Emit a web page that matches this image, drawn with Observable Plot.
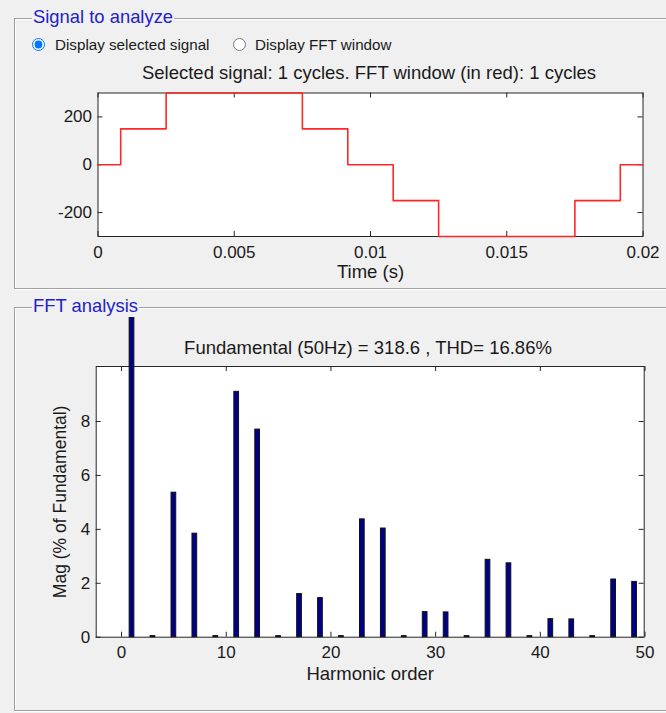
<!DOCTYPE html>
<html>
<head>
<meta charset="utf-8">
<script src="https://cdn.jsdelivr.net/npm/d3@7"></script>
<script src="https://cdn.jsdelivr.net/npm/@observablehq/plot@0.6"></script>
<style>
  html, body { margin: 0; padding: 0; background: #f0f0f0; width: 666px; height: 713px; overflow: hidden;
    font-family: "Liberation Sans", Arial, sans-serif; color: #1a1a1a; }
  .panel { position: absolute; border: 1px solid #a0a0a0; box-shadow: inset 1px 1px 0 #fff, 1px 1px 0 #fff; }
  .ptitle { position: absolute; background: #f0f0f0; color: #2222c8; font-size: 18.4px; line-height: 18px; padding: 0 1px; white-space: nowrap; }
  .lbl { position: absolute; font-size: 15.2px; line-height: 15px; white-space: nowrap; }
  .title { position: absolute; font-size: 18.5px; line-height: 20px; white-space: nowrap; transform: translate(-50%, -50%); z-index: 5; }
  input[type=radio] { position: absolute; margin: 0; width: 13px; height: 13px; }
  .chart { position: absolute; left: 0; }
</style>
</head>
<body>
<div class="panel" style="left:14px; top:18px; width:670px; height:269px;"></div>
<div class="ptitle" style="left:32px; top:8px;">Signal to analyze</div>
<input type="radio" name="disp" checked style="left:32px; top:38px;">
<div class="lbl" style="left:55px; top:37px;">Display selected signal</div>
<input type="radio" name="disp" style="left:233px; top:38px;">
<div class="lbl" style="left:255px; top:37px;">Display FFT window</div>
<div class="title" style="left:369px; top:73px;">Selected signal: 1 cycles. FFT window (in red): 1 cycles</div>

<div class="panel" style="left:14px; top:307px; width:670px; height:402px;"></div>
<div class="ptitle" style="left:32px; top:297px;">FFT analysis</div>
<div class="title" style="left:368px; top:348px;">Fundamental (50Hz) = 318.6 , THD= 16.86%</div>

<div id="c1" class="chart" style="top:88px;"></div>
<div id="c2" class="chart" style="top:317px;"></div>

<script>
// ---- Signal (top chart) ----
const time   = [0, 0.000833, 0.0025, 0.0075, 0.009167, 0.010833, 0.0125, 0.0175, 0.019167, 0.02];
const signal = [0, 150, 300, 150, 0, -150, -300, -150, 0, 0];
const timeTicks = [0, 0.005, 0.01, 0.015, 0.02];
const timeTickLabels = ["0", "0.005", "0.01", "0.015", "0.02"];
const signalTicks = [-200, 0, 200];
const signalTickLabels = ["-200", "0", "200"];

// ---- FFT (bottom chart) ----
const harmonicOrder = [1, 3, 5, 7, 9, 11, 13, 15, 17, 19, 21, 23, 25, 27, 29, 31, 33, 35, 37, 39, 41, 43, 45, 47, 49];
const magnitude     = [100, 0.04, 5.36, 3.84, 0.04, 9.1, 7.7, 0.04, 1.6, 1.45, 0.04, 4.37, 4.03, 0.04, 0.93, 0.92, 0.04, 2.87, 2.74, 0.04, 0.67, 0.66, 0.04, 2.14, 2.05];
const harmonicTicks = [0, 10, 20, 30, 40, 50];
const magTicks = [0, 2, 4, 6, 8];

const FONT = "'Liberation Sans', Arial, sans-serif";
const INK = "#1a1a1a";
const TICK = 5;

// top chart layout
const W = 666;
const H1 = 200, mt1 = 4.5, mb1 = 52, ml1 = 97.5, mr1 = 23.5;
const iw1 = W - ml1 - mr1, ih1 = H1 - mt1 - mb1;
const sigData = time.map((t, i) => ({t, v: signal[i]}));

const chart1 = Plot.plot({
  width: W, height: H1,
  marginTop: mt1, marginBottom: mb1, marginLeft: ml1, marginRight: mr1,
  style: {background: "transparent", overflow: "hidden", fontFamily: FONT, fontSize: "17px", color: INK},
  x: {domain: [0, 0.02]},
  y: {domain: [-300, 300]},
  marks: [
    Plot.frame({fill: "white", stroke: "none"}),
    Plot.frame({stroke: "#262626", strokeWidth: 1}),
    Plot.tickX(timeTicks, {x: d => d, insetTop: ih1 - TICK, stroke: "#262626"}),
    Plot.tickX(timeTicks, {x: d => d, insetBottom: ih1 - TICK, stroke: "#262626"}),
    Plot.tickY(signalTicks, {y: d => d, insetRight: iw1 - TICK, stroke: "#262626"}),
    Plot.tickY(signalTicks, {y: d => d, insetLeft: iw1 - TICK, stroke: "#262626"}),
    Plot.line(sigData, {x: "t", y: "v", curve: "step-after", stroke: "#ff2626", strokeWidth: 1.6}),
    Plot.axisX(timeTicks, {tickSize: 0, tickPadding: 9, label: null, fontSize: 17,
      tickFormat: d => timeTickLabels[timeTicks.indexOf(d)]}),
    Plot.axisY(signalTicks, {tickSize: 0, tickPadding: 6, label: null, fontSize: 17,
      tickFormat: d => signalTickLabels[signalTicks.indexOf(d)]}),
    Plot.text(["Time (s)"], {text: d => d, frameAnchor: "bottom", lineAnchor: "middle", textAnchor: "middle", dy: 36, fontSize: 18.5})
  ]
});
document.getElementById("c1").appendChild(chart1);

// bottom chart layout
const H2 = 383, mt2 = 49, mb2 = 63.3, ml2 = 95.7, mr2 = 22.3;
const iw2 = W - ml2 - mr2, ih2 = H2 - mt2 - mb2;
const harm = harmonicOrder.map((h, i) => ({h, m: magnitude[i]}));
const halfBar = 0.225;

const chart2 = Plot.plot({
  width: W, height: H2,
  marginTop: mt2, marginBottom: mb2, marginLeft: ml2, marginRight: mr2,
  style: {background: "transparent", overflow: "hidden", fontFamily: FONT, fontSize: "17px", color: INK},
  x: {domain: [-2.42, 49.92]},
  y: {domain: [0, 10.04]},
  marks: [
    Plot.frame({fill: "white", stroke: "none"}),
    Plot.frame({stroke: "#262626", strokeWidth: 1}),
    Plot.tickX(harmonicTicks, {x: d => d, insetTop: ih2 - TICK, stroke: "#262626"}),
    Plot.tickX(harmonicTicks, {x: d => d, insetBottom: ih2 - TICK, stroke: "#262626"}),
    Plot.tickY(magTicks, {y: d => d, insetRight: iw2 - TICK, stroke: "#262626"}),
    Plot.tickY(magTicks, {y: d => d, insetLeft: iw2 - TICK, stroke: "#262626"}),
    Plot.rectY(harm, {x1: d => d.h - halfBar, x2: d => d.h + halfBar, y1: 0, y2: "m",
      fill: "#000088", stroke: "#111111", strokeWidth: 1}),
    Plot.axisX(harmonicTicks, {tickSize: 0, tickPadding: 9, label: null, fontSize: 17,
      tickFormat: d => String(d)}),
    Plot.axisY(magTicks, {tickSize: 0, tickPadding: 6, label: null, fontSize: 17,
      tickFormat: d => String(d)}),
    Plot.text(["Harmonic order"], {text: d => d, frameAnchor: "bottom", lineAnchor: "middle", textAnchor: "middle", dy: 37, fontSize: 18.5}),
    Plot.text(["Mag (% of Fundamental)"], {text: d => d, frameAnchor: "left", lineAnchor: "middle", textAnchor: "middle", dx: -36, rotate: -90, fontSize: 17.5})
  ]
});
document.getElementById("c2").appendChild(chart2);
</script>
</body>
</html>
